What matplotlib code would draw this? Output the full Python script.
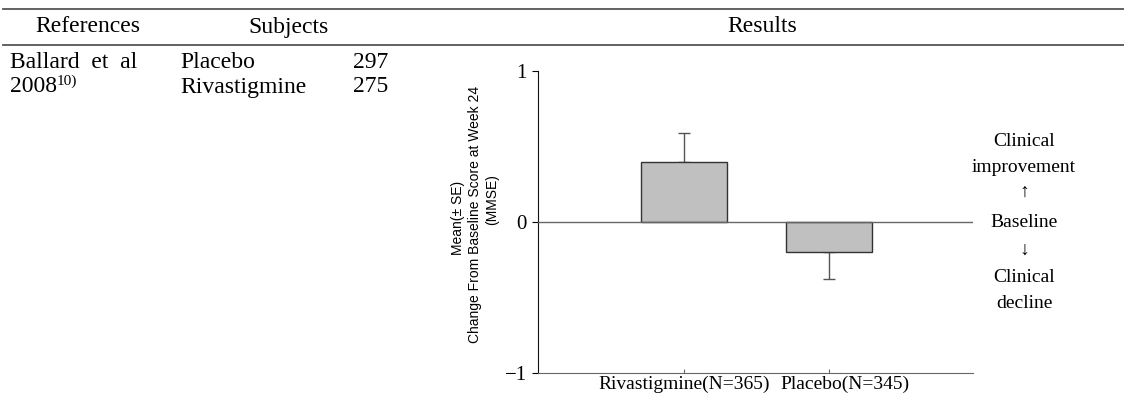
import matplotlib.pyplot as plt
from matplotlib.transforms import ScaledTranslation

# data
groups = ["Rivastigmine(N=365)", "Placebo(N=345)"]
means = [0.40, -0.20]
se = [0.19, 0.18]
yticks = [-1, 0, 1]
ytick_labels = ["\u22121", "0", "1"]

headers = ["References", "Subjects", "Results"]
reference = "Ballard  et  al"
ref_year = "2008"
ref_note = "10)"
subjects = ["Placebo", "Rivastigmine"]
counts = ["297", "275"]
side_labels = ["Clinical", "improvement", "\u2191", "Baseline", "\u2193", "Clinical", "decline"]

W, H = 1124, 400
serif = "Liberation Serif"
sans = "Liberation Sans"
fs_tab = 17
fs_chart = 14


def fx(px):
    return px / W


def fy(py):
    return 1 - py / H


fig = plt.figure(figsize=(W / 100, H / 100), dpi=100)

# table frame lines
fig.add_artist(plt.Line2D([fx(3), 1], [fy(9), fy(9)], color="#555555", lw=1.3))
fig.add_artist(plt.Line2D([fx(3), 1], [fy(45), fy(45)], color="#555555", lw=1.3))

# headers
for txt, x in zip(headers, [88, 288, 762]):
    fig.text(fx(x), fy(27), txt, ha="center", va="center", family=serif, fontsize=fs_tab)

# reference column
fig.text(fx(10), fy(62), reference, ha="left", va="center", family=serif, fontsize=fs_tab)
yr = fig.text(fx(10), fy(87), ref_year, ha="left", va="center", family=serif, fontsize=fs_tab)

# subject column
for i, (s, n) in enumerate(zip(subjects, counts)):
    y = fy(62 + 25 * i)
    fig.text(fx(180), y, s, ha="left", va="center", family=serif, fontsize=fs_tab)
    fig.text(fx(353), y, n, ha="left", va="center", family=serif, fontsize=fs_tab)

# bar chart
ax = fig.add_axes([fx(538), fy(373), fx(973) - fx(538), fy(71) - fy(373)])
x = list(range(len(groups)))
ax.bar(x, means, width=0.59, color="#c0c0c0", edgecolor="#333333", linewidth=1.0, zorder=2)
for xi, m, e in zip(x, means, se):
    err = [[0], [e]] if m >= 0 else [[e], [0]]
    ax.errorbar(xi, m, yerr=err, color="#555555", lw=1.0, capsize=4, capthick=1.0, zorder=1)
ax.axhline(0, color="#666666", lw=1.0, zorder=3)

ax.set_xlim(-1.007, 1.993)
ax.set_ylim(-1, 1)
ax.set_xticks(x)
ax.set_xticklabels(groups, family=serif, fontsize=fs_chart)
ax.set_yticks(yticks)
ax.set_yticklabels(ytick_labels, family=serif, fontsize=fs_chart + 1)
ax.spines["top"].set_visible(False)
ax.spines["right"].set_visible(False)
ax.spines["left"].set_color("#111111")
ax.spines["bottom"].set_color("#666666")
ax.tick_params(axis="y", length=4, width=0.8, pad=4)
ax.tick_params(axis="x", direction="in", length=3, width=0.8, color="#666666", pad=2)

# second category label sits a little right of its tick in the original
lab = ax.get_xticklabels()[1]
lab.set_transform(lab.get_transform() + ScaledTranslation(0.16, 0, fig.dpi_scale_trans))

ax.annotate(ref_note, xy=(1, 0.78), xycoords=yr, ha="left", va="center",
            family=serif, fontsize=11, annotation_clip=False)

# y label, three rotated lines
fig.text(fx(458), fy(218), "Mean(\u00b1 SE)", rotation=90, ha="center", va="center",
         family=sans, fontsize=10)
fig.text(fx(475), fy(214), "Change From Baseline Score at Week 24", rotation=90,
         ha="center", va="center", family=sans, fontsize=10)
fig.text(fx(492), fy(200), "(MMSE)", rotation=90, ha="center", va="center",
         family=sans, fontsize=10)

# right-hand direction labels
for txt, py in zip(side_labels, [141, 168, 192, 222, 250, 277, 303]):
    fig.text(fx(1024), fy(py), txt, ha="center", va="center", family=serif, fontsize=fs_chart)

fig.savefig("out.png", dpi=100)
